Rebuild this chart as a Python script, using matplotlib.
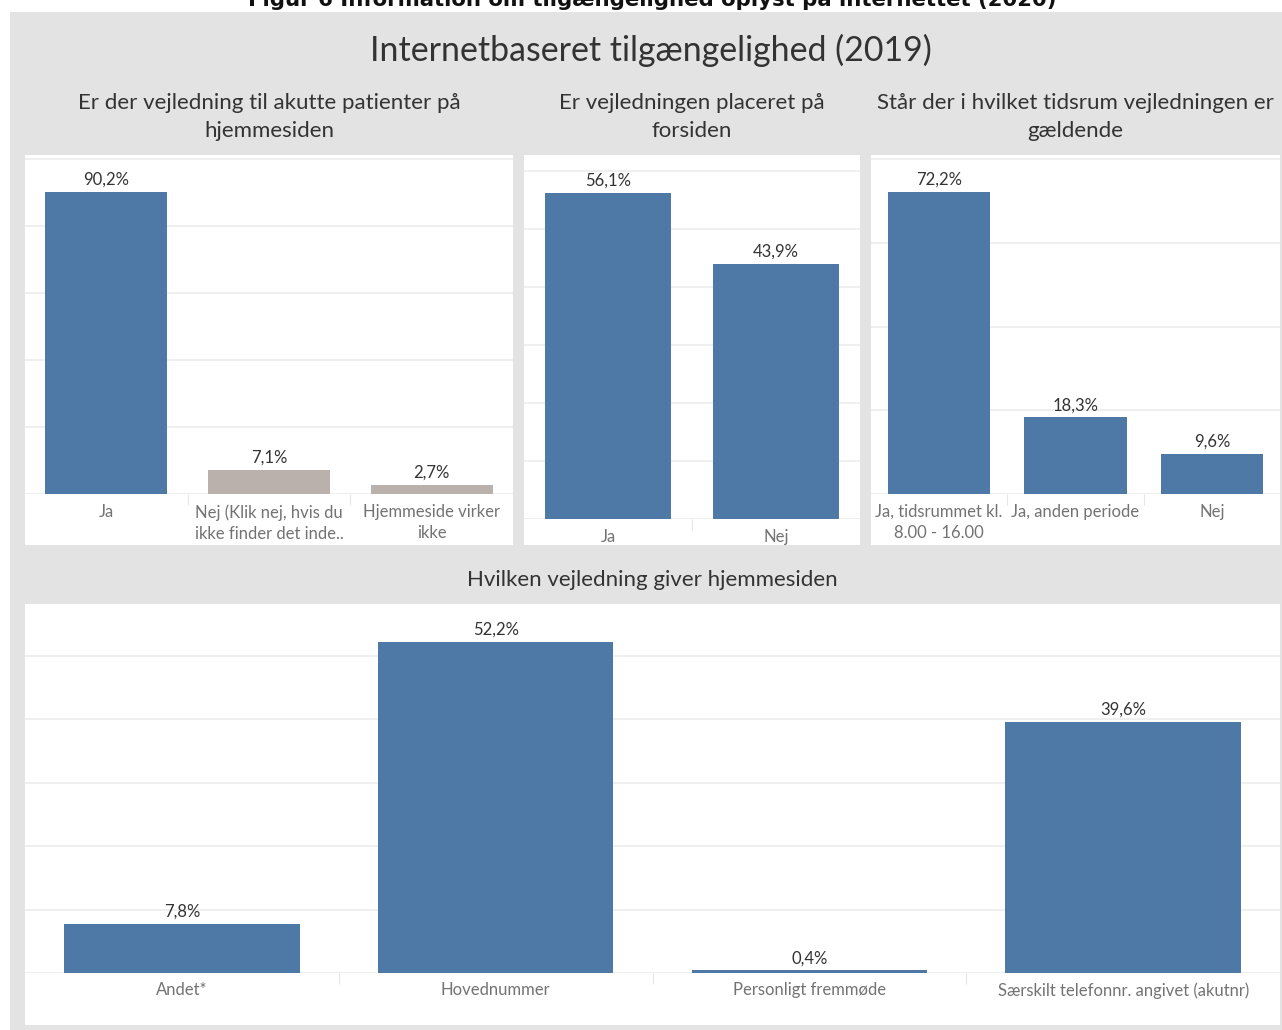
import matplotlib
matplotlib.use("Agg")
import matplotlib.pyplot as plt
from matplotlib.patches import Rectangle

plt.rcParams['font.family'] = ['Lato', 'DejaVu Sans']

# ---------------- data ----------------
p1_categories = ["Ja", "Nej (Klik nej, hvis du\nikke finder det inde..", "Hjemmeside virker\nikke"]
p1_values = [90.2, 7.1, 2.7]
p1_colors = ["#4e79a7", "#bab0ac", "#bab0ac"]

p2_categories = ["Ja", "Nej"]
p2_values = [56.1, 43.9]

p3_categories = ["Ja, tidsrummet kl.\n8.00 - 16.00", "Ja, anden periode", "Nej"]
p3_values = [72.2, 18.3, 9.6]

p4_categories = ["Andet*", "Hovednummer", "Personligt fremmøde", "Særskilt telefonnr. angivet (akutnr)"]
p4_values = [7.8, 52.2, 0.4, 39.6]

page_title = "Figur 6 Information om tilgængelighed oplyst på internettet (2020)"
main_title = "Internetbaseret tilgængelighed (2019)"
p1_title = "Er der vejledning til akutte patienter på\nhjemmesiden"
p2_title = "Er vejledningen placeret på\nforsiden"
p3_title = "Står der i hvilket tidsrum vejledningen er\ngældende"
p4_title = "Hvilken vejledning giver hjemmesiden"

BLUE = "#4e79a7"
BG = "#e3e3e3"
GRID = "#ececec"
TXT = "#333333"
TICK = "#737373"

W, H = 1282, 1030
fig = plt.figure(figsize=(W / 100, H / 100), dpi=100)
fig.patch.set_facecolor("white")


def fx(x):
    return x / W


def fy(y):
    return 1 - y / H


def rect(x0, y0, x1, y1, color):
    fig.patches.append(Rectangle((fx(x0), fy(y1)), fx(x1) - fx(x0), fy(y0) - fy(y1),
                                 transform=fig.transFigure, facecolor=color,
                                 edgecolor="none", zorder=-10))


# gray dashboard background and white panels
rect(10, 12, 1282, 1030, BG)
rect(25, 155, 513, 545, "white")
rect(524, 155, 860, 545, "white")
rect(871, 155, 1280, 545, "white")
rect(25, 604, 1280, 1025, "white")

fig.text(fx(652), fy(6), page_title, ha="center", va="baseline", fontsize=15.3,
         fontweight="bold", family="DejaVu Sans", color="#111111")
fig.text(fx(651), fy(50), main_title, ha="center", va="center", fontsize=24.4, color=TXT)


def panel(x0, x1, ytop, ybase, ymax, cats, vals, colors, gridstep, title, title_x, title_y,
          tick_pad, label_fs=12, tick_fs=12):
    ax = fig.add_axes([fx(x0), fy(ybase), fx(x1) - fx(x0), fy(ytop) - fy(ybase)])
    ax.set_facecolor("none")
    pos = list(range(len(cats)))
    bars = ax.bar(pos, vals, width=0.75, color=colors, linewidth=0, zorder=3)
    for b, v in zip(bars, vals):
        ax.annotate(f"{v:.1f}".replace(".", ",") + "%",
                    (b.get_x() + b.get_width() / 2, v), xytext=(0, 3),
                    textcoords="offset points", ha="center", va="bottom",
                    fontsize=label_fs, color=TXT)
    ax.set_xlim(-0.5, len(cats) - 0.5)
    ax.set_ylim(0, ymax)
    ticks = [t for t in range(0, int(ymax) + 1, gridstep)]
    ax.set_yticks(ticks)
    ax.yaxis.grid(True, color=GRID, linewidth=1.2, zorder=0)
    ax.tick_params(axis="y", left=False, labelleft=False)
    ax.set_xticks(pos)
    ax.set_xticklabels(cats, fontsize=tick_fs, color=TICK, linespacing=1.4)
    ax.tick_params(axis="x", length=0, pad=tick_pad)
    ax.set_xticks([p + 0.5 for p in pos[:-1]], minor=True)
    ax.tick_params(axis="x", which="minor", length=8, width=0.8, color="#e6e6e6")
    for s in ax.spines.values():
        s.set_visible(False)
    fig.text(fx(title_x), fy(title_y), title, ha="center", va="center",
             fontsize=16, color=TXT, linespacing=1.45)
    return ax


panel(25, 513, 155, 494, 100 * (494 - 155) / (494 - 159), p1_categories, p1_values,
      p1_colors, 20, p1_title, 269, 117, 7.2)
panel(524, 860, 155, 519, 60 * (519 - 155) / (519 - 170.5), p2_categories, p2_values,
      [BLUE] * 2, 10, p2_title, 692, 117, 7.2)
panel(871, 1280, 155, 494, 72.2 * (494 - 155) / (494 - 192), p3_categories, p3_values,
      [BLUE] * 3, 20, p3_title, 1075, 117, 7.2)
panel(25, 1280, 604, 973, 52.2 * (973 - 604) / (973 - 642), p4_categories, p4_values,
      [BLUE] * 4, 10, p4_title, 652, 580, 6.5)

fig.savefig("out.png", dpi=100, facecolor="white")
